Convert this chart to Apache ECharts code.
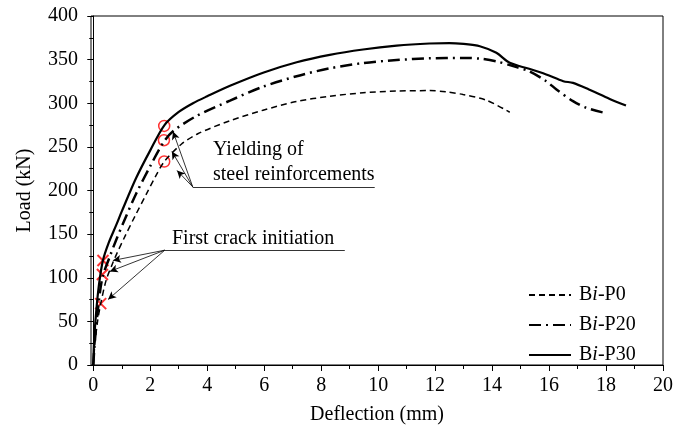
<!DOCTYPE html>
<html>
<head>
<meta charset="utf-8">
<script src="https://cdn.jsdelivr.net/npm/echarts@6/dist/echarts.min.js"></script>
<style>
html,body{margin:0;padding:0;background:#fff;}
#main{width:679px;height:436px;}
</style>
</head>
<body>
<div id="main"></div>
<script>
// 数据: [挠度 mm, 荷载 kN]
var xTicks = [0, 2, 4, 6, 8, 10, 12, 14, 16, 18, 20];
var xMinorTicks = [1, 3, 5, 7, 9, 11, 13, 15, 17, 19];

var p0 = [[0,0],[0.05,22],[0.15,50],[0.26,70],[0.45,97],[0.66,115],[0.83,128],[1.12,148],[1.47,171],[1.88,197],[2.2,217],
    [2.49,233],[3.09,253],[3.67,265],[4.8,280],[5.96,292],[7.14,302],[8.3,308],[9.47,312],[10.65,314],[11.8,314.5],
    [12.4,313],[12.98,310],[13.8,303.5],[14.62,289.7]];
var p20 = [[0,0],[0.05,25],[0.15,60],[0.32,100],[0.6,126],[0.8,143],[1.12,168],[1.5,196],[2.0,228],[2.48,256],[2.8,268],
    [3.6,285],[4.8,303],[5.96,319],[7.14,331],[8.3,340],[9.47,346],[10.65,349.5],[11.8,351.5],[12.98,352],[13.6,351],
    [14.15,348],[14.74,342.5],[15.3,336.7],[15.9,325.3],[16.26,315.8],[16.84,302.4],[17.3,294.8],[17.95,289]];
var p30 = [[0,0],[0.03,28],[0.1,60],[0.2,92],[0.34,120],[0.54,140],[0.8,160],[1.0,176],[1.5,214],[2.0,246],[2.5,275],
    [3.0,290],[3.5,300],[4.0,308],[4.8,320],[5.96,335],[7.14,347],[8.3,355.5],[9.47,361.6],[10.65,366],[11.8,368.5],
    [12.5,369],[13.0,368],[13.57,365.4],[14.15,357.8],[14.62,346.3],[15.3,339.5],[15.9,333],[16.5,325.3],[16.84,323.4],
    [17.4,315.8],[18.13,305],[18.7,297.4]];

// 初裂点(红叉)与屈服点(红圈)
var crackPts = [[0.34,119.8],[0.32,103.7],[0.26,70.3]];
var yieldPts = [[2.49,274],[2.48,257.6],[2.49,233.2]];

var seriesNames = ['Bi-P0', 'Bi-P20', 'Bi-P30'];

var FONT = '"Liberation Serif", "Times New Roman", serif';

var chart = echarts.init(document.getElementById('main'));

// 箭头标注线
function arrow(from, to) {
    return [{coord: from, symbol: 'none'}, {coord: to, symbol: 'arrow'}];
}
function plain(from, to) {
    return [{coord: from, symbol: 'none'}, {coord: to, symbol: 'none'}];
}

var crackOrigin = [2.51, 131.6];
var yieldOrigin = [3.49, 204.2];

var option = {
    animation: false,
    grid: {
        left: 91, right: 16, top: 16, bottom: 71,
        show: true, borderColor: '#000', borderWidth: 1,
        outerBoundsMode: 'none'
    },
    legend: {
        data: seriesNames,
        orient: 'vertical',
        left: 523, top: 280,
        itemWidth: 42, itemHeight: 14, itemGap: 10,
        itemStyle: {opacity: 0},
        formatter: function (name) {
            return '{n|B}{i|i}{n|' + name.slice(2) + '}';
        },
        textStyle: {
            padding: [0, 0, 0, 3],
            rich: {
                n: {fontFamily: FONT, fontSize: 20, color: '#000'},
                i: {fontFamily: FONT, fontSize: 20, fontStyle: 'italic', color: '#000'}
            }
        }
    },
    xAxis: [{
        type: 'value', min: -0.08, max: 20,
        name: 'Deflection (mm)', nameLocation: 'middle', nameGap: 40,
        nameTextStyle: {fontFamily: FONT, fontSize: 20, color: '#000'},
        axisLine: {show: true, onZero: false, lineStyle: {color: '#000', width: 1}},
        axisTick: {show: true, inside: false, length: 6, customValues: xTicks, lineStyle: {color: '#000'}},
        axisLabel: {customValues: xTicks, margin: 11, fontFamily: FONT, fontSize: 20, color: '#000'},
        splitLine: {show: false}
    }, {
        type: 'value', min: -0.08, max: 20, position: 'bottom', offset: 0,
        axisLine: {show: false},
        axisTick: {show: true, inside: false, length: 4, customValues: xMinorTicks, lineStyle: {color: '#000'}},
        axisLabel: {show: false},
        splitLine: {show: false}
    }],
    yAxis: {
        type: 'value', min: 0, max: 400, interval: 50,
        name: 'Load (kN)', nameLocation: 'middle', nameGap: 56,
        nameTextStyle: {fontFamily: FONT, fontSize: 20, color: '#000'},
        axisLine: {show: true, lineStyle: {color: '#000', width: 1}},
        axisTick: {show: true, inside: false, length: 6, lineStyle: {color: '#000'}},
        minorTick: {show: true, splitNumber: 2, length: 4, lineStyle: {color: '#000'}},
        axisLabel: {margin: 13, fontFamily: FONT, fontSize: 20, color: '#000', showMinLabel: true, showMaxLabel: true},
        splitLine: {show: false}
    },
    series: [{
        name: 'Bi-P0', type: 'line', data: p0, symbol: 'none', smooth: 0.3,
        lineStyle: {color: '#000', width: 1.5, type: [6, 4]},
        itemStyle: {color: '#000'}
    }, {
        name: 'Bi-P20', type: 'line', data: p20, symbol: 'none', smooth: 0.3,
        lineStyle: {color: '#000', width: 2.5, type: [12, 5, 2, 5]},
        itemStyle: {color: '#000'}
    }, {
        name: 'Bi-P30', type: 'line', data: p30, symbol: 'none', smooth: 0.3,
        lineStyle: {color: '#000', width: 2.2, type: 'solid'},
        itemStyle: {color: '#000'}
    }, {
        name: 'crack', type: 'scatter', data: crackPts, silent: true,
        symbol: 'path://M0,0L10,10M10,0L0,10', symbolSize: 11,
        itemStyle: {color: 'none', borderColor: '#ff0000', borderWidth: 2},
        markLine: {
            silent: true, symbolSize: [6, 8],
            label: {show: false},
            lineStyle: {color: '#000', width: 0.8, type: 'solid'},
            emphasis: {disabled: true},
            data: [
                arrow(crackOrigin, [0.69, 119.8]),
                arrow(crackOrigin, [0.58, 107.2]),
                arrow(crackOrigin, [0.52, 75.1]),
                plain(crackOrigin, [8.83, 131.6])
            ]
        }
    }, {
        name: 'yield', type: 'scatter', data: yieldPts, silent: true,
        symbol: 'circle', symbolSize: 11,
        itemStyle: {color: 'transparent', borderColor: '#ff0000', borderWidth: 1.5},
        markLine: {
            silent: true, symbolSize: [6, 8],
            label: {show: false},
            lineStyle: {color: '#000', width: 0.8, type: 'solid'},
            emphasis: {disabled: true},
            data: [
                arrow(yieldOrigin, [2.80, 267.6]),
                arrow(yieldOrigin, [2.76, 244.8]),
                arrow(yieldOrigin, [2.94, 222.9]),
                plain(yieldOrigin, [9.88, 204.2])
            ]
        }
    }],
    graphic: [
        {type: 'text', x: 213, y: 150, style: {text: 'Yielding of', font: '20px ' + FONT, fill: '#000', verticalAlign: 'middle'}},
        {type: 'text', x: 213, y: 175, style: {text: 'steel reinforcements', font: '20px ' + FONT, fill: '#000', verticalAlign: 'middle'}},
        {type: 'text', x: 172, y: 239, style: {text: 'First crack initiation', font: '20px ' + FONT, fill: '#000', verticalAlign: 'middle'}}
    ]
};

chart.setOption(option);
</script>
</body>
</html>
